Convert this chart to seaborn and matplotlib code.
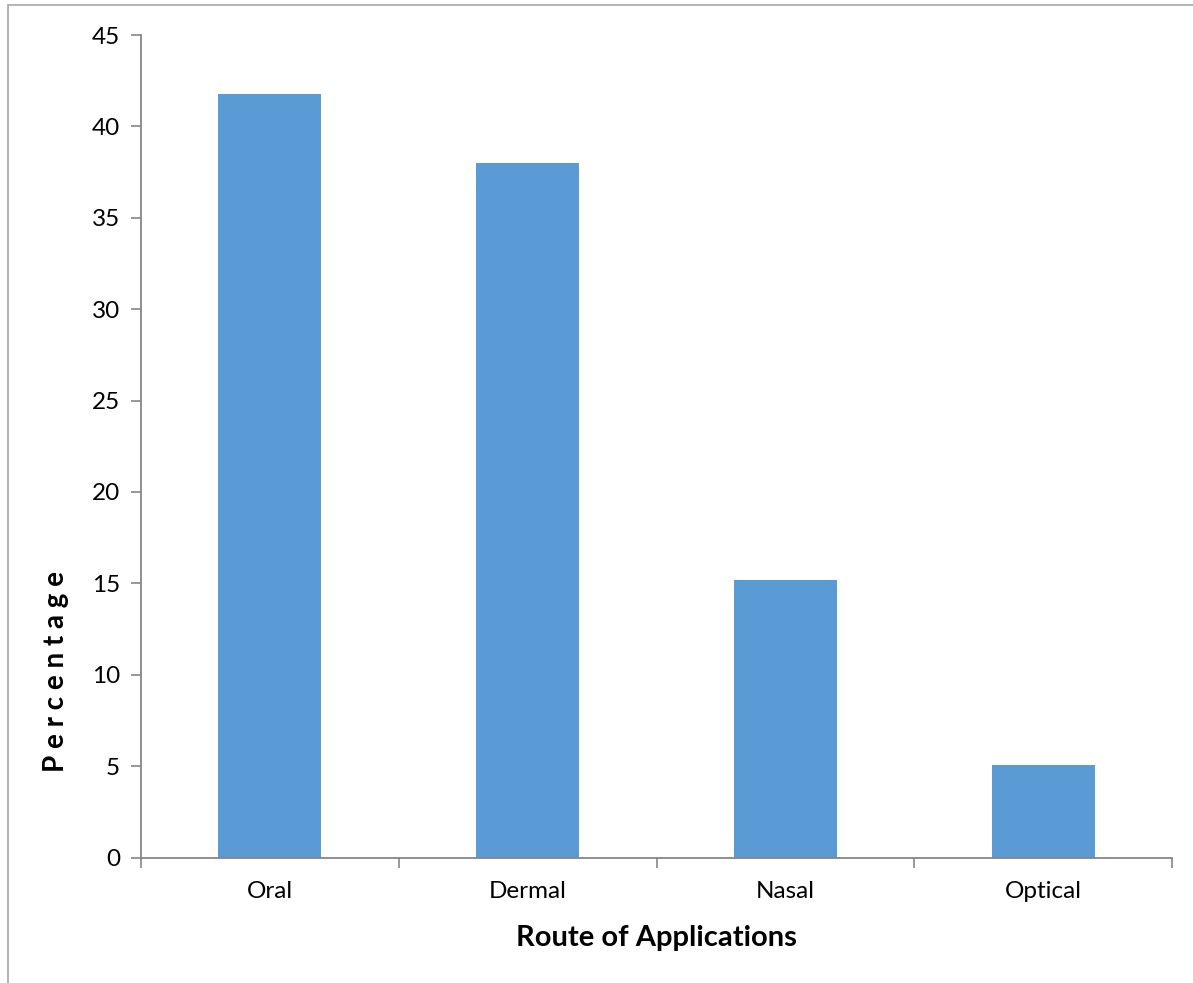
import matplotlib
matplotlib.use("Agg")
import matplotlib.pyplot as plt
from matplotlib.patches import Rectangle
import seaborn as sns

routes = ["Oral", "Dermal", "Nasal", "Optical"]
percentages = [41.75, 38.0, 15.2, 5.07]
y_ticks = [0, 5, 10, 15, 20, 25, 30, 35, 40, 45]

sns.set_theme(style="white")
plt.rcParams["font.family"] = ["Lato", "DejaVu Sans"]

W, H = 1193, 983
fig = plt.figure(figsize=(W / 100, H / 100), dpi=100)
fig.patch.set_facecolor("white")

# outer chart frame (only left and top edges fall inside the canvas)
fig.patches.append(Rectangle((8 / W, -0.1), 1.2, 1 - 5 / H + 0.1,
                             transform=fig.transFigure, fill=False,
                             edgecolor="#a6a6a6", linewidth=1.2))

ax = fig.add_axes([141 / W, 1 - 857.5 / H, (1172 - 141) / W, (857.5 - 35) / H])
sns.barplot(x=routes, y=percentages, color="#5B9BD5", width=0.4,
            saturation=1, ax=ax, edgecolor="none")

ax.set_xlim(-0.5, len(routes) - 0.5)
ax.set_ylim(0, 45)
ax.set_yticks(y_ticks)
ax.set_yticklabels([str(t) for t in y_ticks], fontsize=17.5, color="#000000")

# category boundaries carry the tick marks; names sit in the middle
ax.set_xticks([i - 0.5 for i in range(len(routes) + 1)])
ax.set_xticklabels([])
ax.set_xticks(range(len(routes)), minor=True)
ax.set_xticklabels(routes, minor=True, fontsize=17.5, color="#000000")
ax.tick_params(axis="x", which="major", direction="out", length=7,
               width=1.2, color="#868686", bottom=True)
ax.tick_params(axis="x", which="minor", length=0, pad=17, bottom=True)
ax.tick_params(axis="y", direction="out", length=7, width=1.2,
               color="#868686", left=True, pad=8)

for side in ["top", "right"]:
    ax.spines[side].set_visible(False)
for side in ["left", "bottom"]:
    ax.spines[side].set_color("#868686")
    ax.spines[side].set_linewidth(1.3)

ax.set_xlabel("")
ax.set_ylabel("")
ax.grid(False)

fig.text(656.5 / W, 1 - 938 / H, "Route of Applications", ha="center",
         va="center", fontsize=21, fontweight="bold", color="#000000")
fig.text(56 / W, 1 - 671 / H, "P e r c e n t a g e", ha="center",
         va="center", rotation=90, fontsize=20, fontweight="bold",
         color="#000000")

fig.savefig("out.png", dpi=100, facecolor="white")
